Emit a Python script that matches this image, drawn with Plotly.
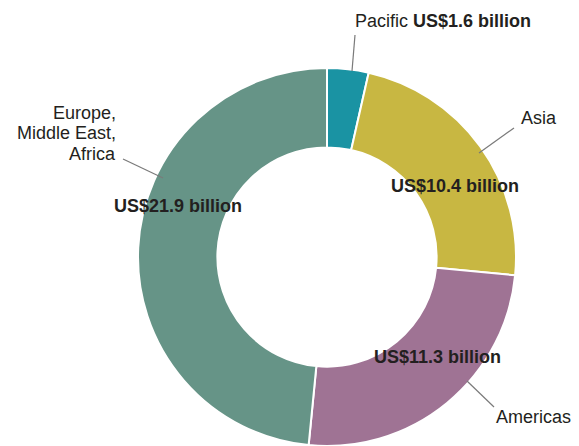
import plotly.graph_objects as go

# the page body keeps its default 8px margin, so the figure is drawn 8px in
OFF = 8
W, H = 579 - 2 * OFF, 446 - OFF

regions = ["Pacific", "Asia", "Americas", "Europe,<br>Middle East,<br>Africa"]
revenue_bn = [1.6, 10.4, 11.3, 21.9]
colors = ["#1a93a3", "#c8b742", "#9f7394", "#669487"]

FONT = "Liberation Sans, Arial, Helvetica, sans-serif"
INK = "#231f20"
SIZE = 18


def px(x):
    return (x - OFF) / W


def py(y):
    return 1 - (y - OFF) / H


fig = go.Figure(
    go.Pie(
        labels=regions,
        values=revenue_bn,
        sort=False,
        direction="clockwise",
        rotation=0,
        hole=0.58,
        marker=dict(colors=colors, line=dict(color="#ffffff", width=2)),
        textinfo="none",
        hoverinfo="label+value",
        domain=dict(x=[px(137), px(517)], y=[0, py(68)]),
        showlegend=False,
    )
)

# region names with leader lines (screen pixel positions of the label layout)
name_labels = [
    (f"Pacific <b>US${revenue_bn[0]} billion</b>", 353, 21, "left", (352, 71, 355, 35)),
    (regions[1], 519, 118, "left", (479, 153, 514, 128)),
    (regions[2], 494, 417, "left", (467, 381, 494, 407)),
    (regions[3], 118, 133, "right", (163, 178, 123, 159)),
]
# value labels sitting on the ring
value_pos = [None, (455, 186), (438, 357), (178, 206)]

annotations = []
shapes = []
for text, x, y, anchor, (x0, y0, x1, y1) in name_labels:
    lines = text.split("<br>")
    for i, line in enumerate(lines):
        yy = y + (i - (len(lines) - 1) / 2) * 20.5
        annotations.append(
            dict(
                text=line,
                x=px(x),
                y=py(yy),
                xref="paper",
                yref="paper",
                xanchor=anchor,
                yanchor="middle",
                showarrow=False,
                font=dict(family=FONT, size=SIZE, color=INK),
            )
        )
    shapes.append(
        dict(
            type="line",
            xref="paper",
            yref="paper",
            x0=px(x0),
            y0=py(y0),
            x1=px(x1),
            y1=py(y1),
            line=dict(color="#7a7a7a", width=1.2),
        )
    )

for value, pos in zip(revenue_bn, value_pos):
    if pos is None:
        continue
    annotations.append(
        dict(
            text=f"<b>US${value} billion</b>",
            x=px(pos[0]),
            y=py(pos[1]),
            xref="paper",
            yref="paper",
            xanchor="center",
            yanchor="middle",
            showarrow=False,
            font=dict(family=FONT, size=SIZE, color=INK),
        )
    )

fig.update_layout(
    width=W,
    height=H,
    margin=dict(l=0, r=0, t=0, b=0),
    paper_bgcolor="#ffffff",
    plot_bgcolor="#ffffff",
    annotations=annotations,
    shapes=shapes,
)

fig.write_html("out.html")
